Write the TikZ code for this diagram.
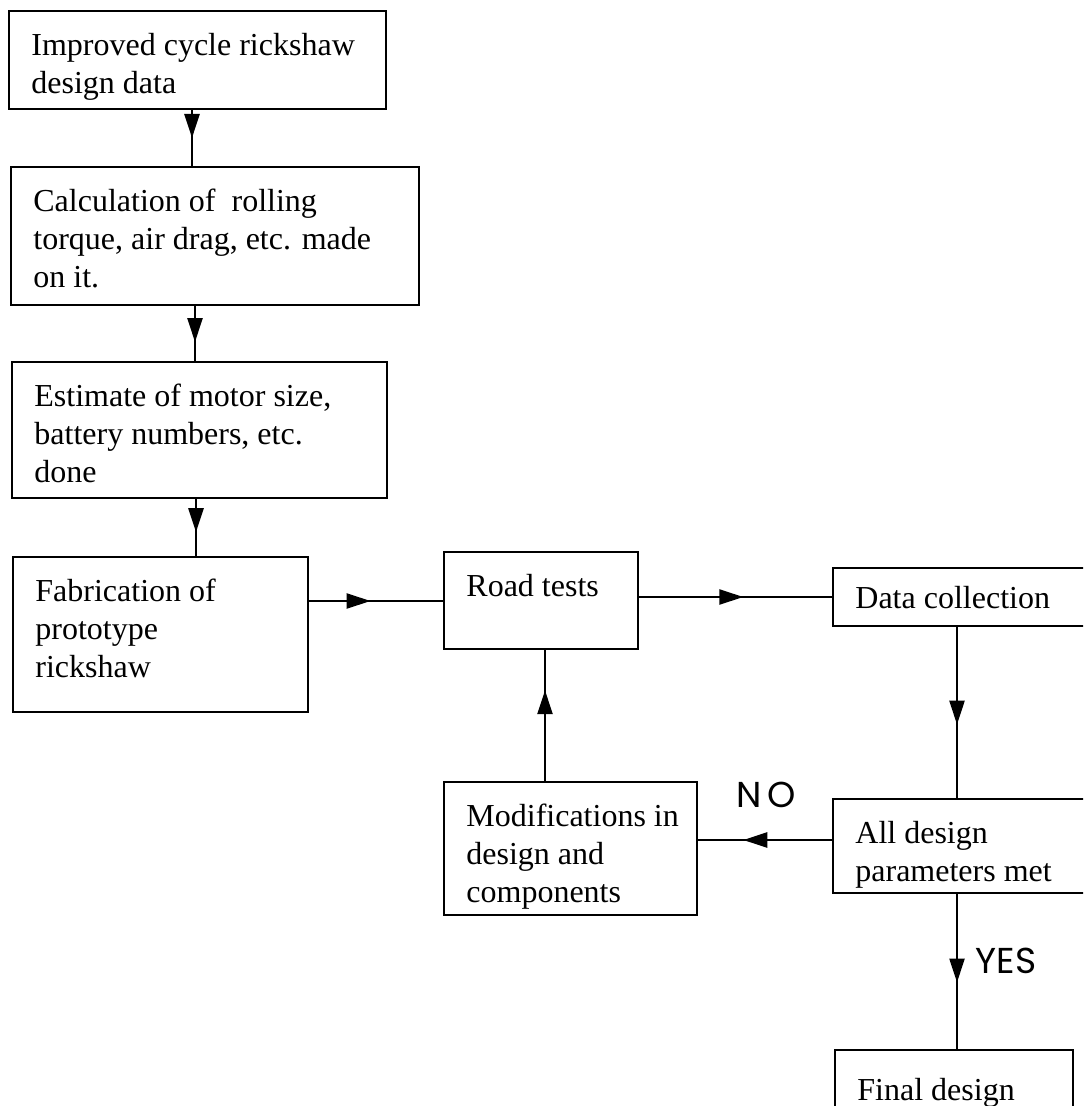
\documentclass[tikz,border=0pt]{standalone}
\usepackage{fontspec}
\setmainfont{Liberation Serif}
\newfontfamily\handfont{Poppins}
\usetikzlibrary{arrows.meta,decorations.markings}

\tikzset{
  blk/.style={draw,line width=1.3pt,anchor=north west,inner sep=0pt,outer sep=0pt},
  txt/.style={anchor=north west,align=left,inner sep=11pt,font=\fontsize{16}{19}\selectfont},
  flow/.style={line width=1.2pt,postaction={decorate},
    decoration={markings,mark=at position #1 with {\arrow{Triangle[length=12pt,width=7.5pt]}}}},
  answer/.style={font=\handfont\fontsize{18}{18}\selectfont,inner sep=0pt}
}

\begin{document}
\begin{tikzpicture}[x=0.5pt,y=-0.5pt]
\useasboundingbox (0,0) rectangle (1083,1106);
\clip (0,0) rectangle (1083,1106);
\node[blk,minimum width=188.5pt,minimum height=49pt,label={[txt]north west:Improved cycle rickshaw\\design data}](design) at (9,11){};
\node[blk,minimum width=204pt,minimum height=69pt,label={[txt]north west:Calculation of\ \ rolling\\torque, air drag, etc. made\\on it.}](calc) at (11,167){};
\node[blk,minimum width=187.5pt,minimum height=68pt,label={[txt]north west:Estimate of motor size,\\battery numbers, etc.\\done}](estim) at (12,362){};
\node[blk,minimum width=147.5pt,minimum height=77.5pt,label={[txt]north west:Fabrication of\\prototype\\rickshaw}](fab) at (13,557){};
\node[blk,minimum width=97pt,minimum height=48.5pt,label={[txt]north west:Road tests}](road) at (444,552){};
\node[blk,minimum width=131pt,minimum height=29pt,label={[txt,inner ysep=9pt]north west:Data collection}](data) at (833,568){};
\node[blk,minimum width=126.5pt,minimum height=66.5pt,label={[txt]north west:Modifications in\\design and\\components}](mods) at (444,782){};
\node[blk,minimum width=131pt,minimum height=47pt,label={[txt]north west:All design\\parameters met}](meet) at (833,799){};
\node[blk,minimum width=119pt,minimum height=40pt,label={[txt,inner ysep=14pt]north west:Final design}](final) at (835,1050){};
\node[answer](no) at (766,795){N\kern3pt O};
\node[answer](yes) at (1006,961){YES};
\coordinate(v1) at (192,0);\coordinate(v2) at (195,0);\coordinate(v3) at (196,0);
\coordinate(v4) at (957,0);\coordinate(v5) at (545,0);
\coordinate(h1) at (0,601);\coordinate(h2) at (0,597);\coordinate(h3) at (0,840);
\draw[flow=.5](design.south-|v1)--(calc.north-|v1);
\draw[flow=.65](calc.south-|v2)--(estim.north-|v2);
\draw[flow=.58](estim.south-|v3)--(fab.north-|v3);
\draw[flow=.46](fab.east|-h1)--(road.west|-h1);
\draw[flow=.54](road.east|-h2)--(data.west|-h2);
\draw[flow=.57](data.south-|v4)--(meet.north-|v4);
\draw[flow=.66](meet.west|-h3)--(mods.east|-h3);
\draw[flow=.69](mods.north-|v5)--(road.south-|v5);
\draw[flow=.57](meet.south-|v4)--(final.north-|v4);
\end{tikzpicture}
\end{document}
